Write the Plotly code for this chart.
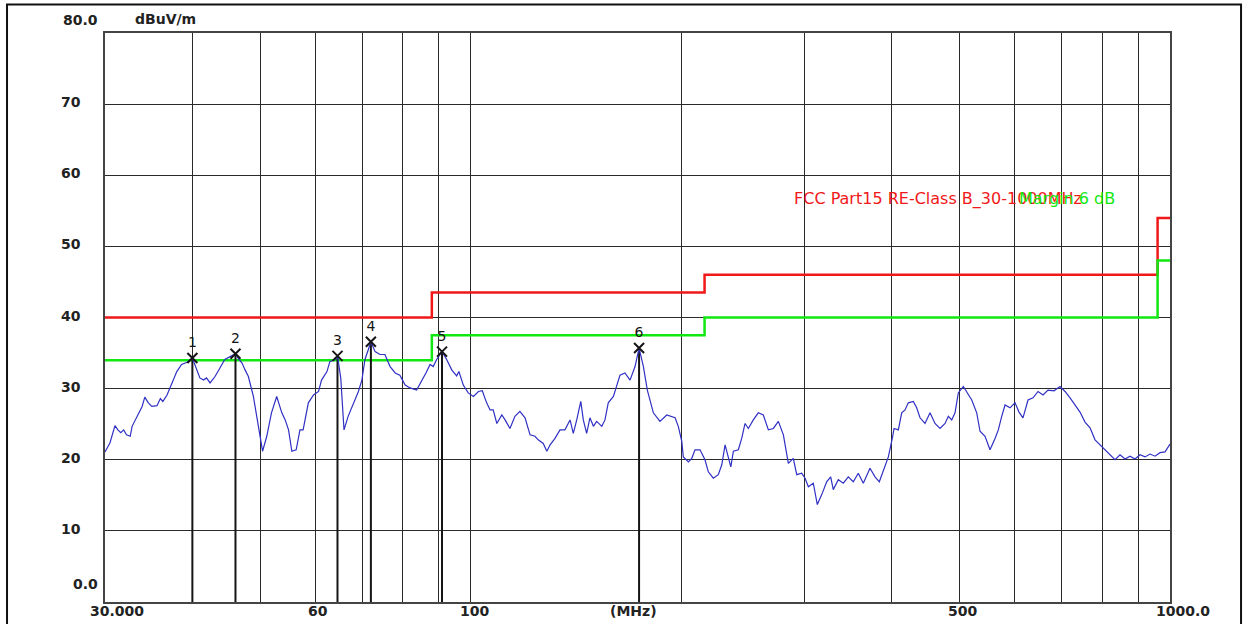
import math
import plotly.graph_objects as go

# ---------------- data ----------------
freq_mhz = [30.0, 30.5, 31.0, 31.3, 31.6, 31.9, 32.2, 32.6, 32.8, 33.3, 33.9, 34.2, 34.6, 35.0, 35.6,
            36.0, 36.3, 36.8, 37.4, 38.0, 38.6, 39.3, 40.0, 40.6, 41.0, 41.5, 41.9, 42.4, 43.1, 43.8,
            44.5, 45.3, 46.1, 46.5, 47.1, 47.6, 48.1, 48.9, 49.4, 50.0, 50.4, 51.1, 51.9, 52.8, 53.7,
            54.3, 54.9, 55.5, 56.3, 57.0, 57.6, 58.6, 59.6, 60.6, 61.2, 62.3, 62.9, 64.0, 64.5, 65.2,
            65.9, 66.8, 68.0, 69.1, 69.9, 70.6, 71.4, 72.0, 73.0, 74.2, 75.4, 76.7, 78.0, 79.2, 80.6,
            81.9, 83.7, 85.1, 86.3, 87.5, 88.4, 89.4, 91.0, 92.4, 94.0, 95.5, 96.2, 97.6, 99.2, 100.9,
            102.6, 103.9, 105.4, 106.6, 107.7, 109.0, 110.8, 112.0, 113.8, 115.7, 117.6, 119.6, 121.6,
            123.6, 124.9, 127.0, 128.5, 129.9, 132.0, 134.2, 136.4, 138.7, 140.2, 141.8, 143.7, 144.9,
            146.5, 148.1, 149.8, 151.4, 154.0, 155.6, 157.3, 160.0, 161.8, 163.5, 166.2, 169.0, 171.8,
            174.1, 176.6, 178.9, 182.5, 186.5, 190.7, 193.9, 196.0, 198.1, 200.4, 201.4, 204.8, 207.1,
            209.3, 212.8, 216.3, 218.7, 222.3, 226.0, 228.6, 231.1, 233.6, 235.5, 237.5, 241.4, 244.1,
            246.8, 249.5, 253.6, 257.8, 262.1, 266.5, 270.9, 275.4, 280.0, 284.6, 289.3, 292.6, 297.4,
            300.7, 304.0, 309.0, 313.1, 317.7, 322.9, 327.2, 330.0, 335.5, 341.1, 346.7, 352.5, 358.3,
            364.3, 372.4, 378.6, 384.0, 389.1, 395.6, 401.3, 403.1, 408.8, 413.4, 417.9, 422.5, 429.5,
            434.3, 439.1, 446.4, 453.8, 461.3, 469.0, 476.8, 482.0, 487.4, 492.7, 498.1, 506.4, 512.1,
            520.6, 529.2, 535.0, 543.9, 552.9, 562.1, 568.2, 574.6, 580.9, 590.5, 600.4, 608.3, 616.3,
            626.6, 637.0, 647.6, 658.3, 669.2, 682.6, 696.2, 707.8, 719.6, 731.5, 743.6, 755.9, 768.5,
            781.3, 794.2, 807.4, 820.8, 834.4, 848.3, 862.4, 876.7, 891.2, 906.1, 921.0, 936.4, 951.8,
            967.7, 983.8, 1000.0]
level_dbuv = [21.1, 22.4, 24.8, 24.2, 23.8, 24.2, 23.5, 23.3, 24.7, 25.9, 27.5, 28.8, 28.0, 27.5, 27.6,
              28.6, 28.2, 29.1, 30.8, 32.4, 33.4, 33.7, 34.3, 32.7, 31.5, 31.2, 31.5, 30.8, 31.7, 32.9,
              34.1, 34.5, 34.9, 34.3, 33.6, 32.6, 31.7, 28.9, 26.1, 22.8, 21.2, 23.3, 26.6, 28.9, 26.6,
              25.6, 24.2, 21.2, 21.4, 24.2, 24.2, 28.0, 29.1, 29.6, 31.2, 32.4, 33.8, 34.1, 34.6, 31.5,
              24.2, 26.1, 28.0, 29.6, 31.2, 34.1, 35.5, 36.6, 35.2, 34.8, 34.8, 33.1, 32.2, 31.9, 30.5,
              30.1, 29.8, 31.0, 32.2, 33.4, 33.1, 34.1, 35.2, 34.1, 32.6, 31.8, 32.4, 30.5, 29.4, 28.9,
              29.6, 29.7, 28.0, 27.0, 27.0, 25.1, 26.3, 25.6, 24.4, 26.1, 26.8, 25.9, 23.5,
              23.3, 22.8, 22.3, 21.2, 22.1, 23.0, 24.2, 24.2, 25.6, 23.7, 25.6, 28.2, 25.6,
              23.7, 25.9, 24.7, 25.4, 24.7, 25.6, 28.0, 28.9, 30.3, 31.9, 32.2, 31.2, 33.1,
              35.7, 33.1, 29.8, 26.6, 25.4, 26.3, 26.1, 25.9, 24.7, 22.6, 20.4, 19.7, 20.2,
              21.4, 21.4, 20.0, 18.3, 17.4, 17.9, 19.3, 22.1, 20.4, 19.0, 21.2, 21.4, 23.0,
              25.1, 24.4, 25.6, 26.6, 26.3, 24.2, 24.4, 25.4, 23.5, 19.5, 20.2, 17.9, 18.1,
              17.4, 16.2, 16.7, 13.7, 15.1, 16.9, 17.6, 15.8, 17.2, 16.7, 17.6, 16.9, 18.1,
              16.7, 18.8, 17.6, 16.9, 18.6, 20.4, 23.3, 24.4, 24.2, 26.6, 27.0, 28.0, 28.2,
              27.3, 25.9, 25.1, 26.6, 25.1, 24.4, 25.1, 26.1, 25.6, 26.6, 29.4, 30.3, 29.6,
              28.4, 26.6, 24.0, 23.3, 21.4, 23.0, 24.2, 26.1, 27.7, 27.3, 28.0, 26.7, 25.9,
              28.4, 28.7, 29.6, 29.1, 29.8, 29.7, 30.3, 29.6, 28.7, 27.7, 26.7, 25.3, 24.5,
              22.8, 22.1, 21.4, 20.7, 20.0, 20.7, 20.1, 20.5, 20.1, 20.7, 20.4, 20.8, 20.5,
              21.0, 21.1, 22.2]

limit_freq = [30, 88, 88, 216, 216, 960, 960, 1000]
limit_classb = [40, 40, 43.5, 43.5, 46, 46, 54, 54]
limit_margin = [34, 34, 37.5, 37.5, 40, 40, 48, 48]

marker_freq = [40.0, 46.1, 64.5, 72.0, 91.0, 174.1]
marker_level = [34.3, 34.9, 34.6, 36.6, 35.2, 35.7]
marker_label = ["1", "2", "3", "4", "5", "6"]

grid_freq = [30, 40, 50, 60, 70, 80, 90, 100, 200, 300, 400, 500, 600, 700, 800, 900, 1000]
x_tick_vals = [30, 60, 100, 500, 1000]
x_tick_text = ["30.000", "60", "100", "500", "1000.0"]
y_tick_vals = [0, 10, 20, 30, 40, 50, 60, 70, 80]
y_tick_text = ["0.0", "10", "20", "30", "40", "50", "60", "70", "80.0"]

limit_name = "FCC Part15 RE-Class B_30-1000MHz"
margin_name = "Margin 6 dB"
unit_text = "dBuV/m"
x_unit_text = "(MHz)"

# ---------------- figure ----------------
FONT = "DejaVu Sans"
INK = "#151515"
fig = go.Figure()

fig.add_trace(go.Scatter(x=limit_freq, y=limit_classb, mode="lines",
                         line=dict(color="#f01818", width=2.5), hoverinfo="skip"))
fig.add_trace(go.Scatter(x=limit_freq, y=limit_margin, mode="lines",
                         line=dict(color="#10e810", width=2.5), hoverinfo="skip"))

# marker drop lines
mx, my = [], []
for f, l in zip(marker_freq, marker_level):
    mx += [f, f, None]
    my += [0, l, None]
fig.add_trace(go.Scatter(x=mx, y=my, mode="lines", line=dict(color=INK, width=2),
                         hoverinfo="skip"))

fig.add_trace(go.Scatter(x=freq_mhz, y=level_dbuv, mode="lines",
                         line=dict(color="#3030c4", width=1.2)))

fig.add_trace(go.Scatter(x=marker_freq, y=marker_level, mode="markers+text",
                         text=marker_label, textposition="top center",
                         textfont=dict(family=FONT, size=14, color=INK),
                         marker=dict(symbol="x-thin-open", size=10, color=INK,
                                     line=dict(color=INK, width=2))))

axis_common = dict(showgrid=True, gridcolor="#2a2a2a", gridwidth=1.2, zeroline=False,
                   showline=True, linecolor="#444444", linewidth=2, mirror=True,
                   ticks="", showticklabels=False)
fig.update_xaxes(type="log", range=[math.log10(30), math.log10(1000)], tickmode="array",
                 tickvals=grid_freq, **axis_common)
fig.update_yaxes(range=[0, 80], tickmode="array", tickvals=y_tick_vals, **axis_common)

ann = []
xshift_map = {"30.000": 12, "60": 2, "100": 4, "500": 3, "1000.0": 13}
for v, t in zip(x_tick_vals, x_tick_text):
    ann.append(dict(x=math.log10(v), xref="x", y=0, yref="paper", text=f"<b>{t}</b>",
                    showarrow=False, xanchor="center", yanchor="middle", yshift=-9,
                    xshift=xshift_map[t], font=dict(family=FONT, size=14, color="#222222")))
ann.append(dict(x=0.5, xref="paper", y=0, yref="paper", text=f"<b>{x_unit_text}</b>",
                showarrow=False, xanchor="center", yanchor="middle", yshift=-9, xshift=-4,
                font=dict(family=FONT, size=14, color="#222222")))
for v, t in zip(y_tick_vals, y_tick_text):
    if t == "80.0":
        xs, ys = -5, 13
    elif t == "0.0":
        xs, ys = -5, 18
    else:
        xs, ys = -22, 2
    ann.append(dict(x=0, xref="paper", y=v, yref="y", text=f"<b>{t}</b>", showarrow=False,
                    xanchor="right", yanchor="middle", xshift=xs, yshift=ys,
                    font=dict(family=FONT, size=14, color="#222222")))
ann.append(dict(x=0, xref="paper", y=1, yref="paper", text=f"<b>{unit_text}</b>", showarrow=False,
                xanchor="left", yanchor="middle", xshift=28, yshift=14,
                font=dict(family=FONT, size=14, color="#222222")))
ann.append(dict(x=0.645, xref="paper", y=56.7, yref="y", text=limit_name, showarrow=False,
                xanchor="left", yanchor="middle",
                font=dict(family=FONT, size=16, color="#f01818")))
ann.append(dict(x=0.8563, xref="paper", y=56.7, yref="y", text=margin_name, showarrow=False,
                xanchor="left", yanchor="middle",
                font=dict(family=FONT, size=16, color="#10e810")))

fig.update_layout(
    width=1249, height=624, autosize=False,
    margin=dict(l=105, r=79, t=33, b=22),
    plot_bgcolor="white", paper_bgcolor="white",
    showlegend=False, annotations=ann,
    shapes=[dict(type="rect", xref="paper", yref="paper", x0=-0.092, x1=1.0667,
                 y0=-0.06, y1=1.05, line=dict(color="#111111", width=2), layer="below")],
)

fig.write_html("out.html", config={"displayModeBar": False},
               post_script="document.body.style.margin='0';document.body.style.overflow='hidden';")
